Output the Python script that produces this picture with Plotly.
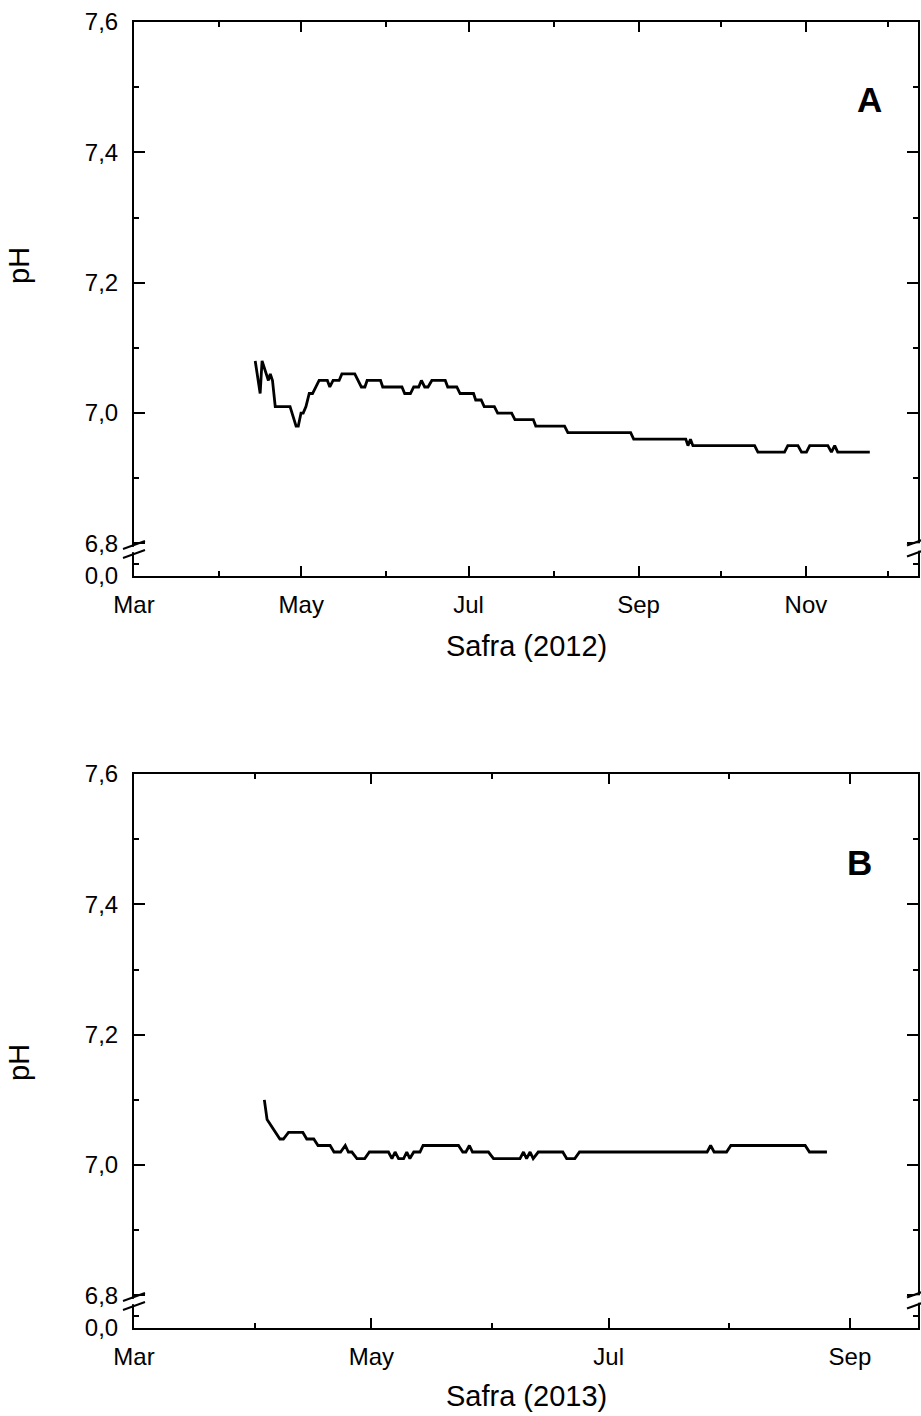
import pandas as pd
import plotly.graph_objects as go

# ---------------- data ----------------
season_start_2012 = "2012-03-01"
days_2012 = [44.2, 46.0, 46.7, 48.4, 49.0, 49.7, 50.5, 51.5,
             56.9, 59.1, 59.9, 60.9, 61.7, 62.7, 63.9, 65.1,
             67.5, 70.5, 71.4, 72.6, 74.8, 75.8, 80.5, 82.9,
             84.2, 85.0, 89.9, 90.7, 97.7, 98.7, 100.8, 102.0,
             103.8, 104.8, 106.0, 107.2, 108.6, 113.5, 114.4, 117.7,
             118.9, 123.8, 124.6, 126.6, 127.7, 131.4, 132.6, 137.7,
             138.9, 145.6, 146.5, 157.0, 158.2, 181.1, 182.2, 201.2,
             202.0, 202.9, 203.8, 226.3, 227.5, 237.2, 238.4, 242.1,
             243.4, 245.2, 246.4, 253.0, 254.3, 255.5, 256.6, 268.3]
ph_2012 = [7.08, 7.03, 7.08, 7.06, 7.05, 7.06, 7.05, 7.01,
           7.01, 6.98, 6.98, 7.00, 7.00, 7.01, 7.03, 7.03,
           7.05, 7.05, 7.04, 7.05, 7.05, 7.06, 7.06, 7.04,
           7.04, 7.05, 7.05, 7.04, 7.04, 7.03, 7.03, 7.04,
           7.04, 7.05, 7.04, 7.04, 7.05, 7.05, 7.04, 7.04,
           7.03, 7.03, 7.02, 7.02, 7.01, 7.01, 7.00, 7.00,
           6.99, 6.99, 6.98, 6.98, 6.97, 6.97, 6.96, 6.96,
           6.95, 6.96, 6.95, 6.95, 6.94, 6.94, 6.95, 6.95,
           6.94, 6.94, 6.95, 6.95, 6.94, 6.95, 6.94, 6.94]

season_start_2013 = "2013-03-01"
days_2013 = [33.5, 34.2, 37.5, 38.4, 39.7, 43.4, 44.4, 46.2,
             47.3, 50.4, 51.4, 53.1, 54.3, 55.1, 56.0, 57.3,
             59.3, 60.5, 65.4, 66.3, 67.1, 68.0, 69.3, 70.1,
             70.9, 71.9, 73.5, 74.3, 83.4, 84.5, 85.3, 86.2,
             87.0, 91.1, 92.4, 99.2, 100.1, 100.9, 101.8, 102.6,
             103.9, 110.2, 111.2, 113.3, 114.5, 147.3, 148.2, 149.1,
             152.3, 153.4, 172.5, 173.6, 178.1]
ph_2013 = [7.10, 7.07, 7.04, 7.04, 7.05, 7.05, 7.04, 7.04,
           7.03, 7.03, 7.02, 7.02, 7.03, 7.02, 7.02, 7.01,
           7.01, 7.02, 7.02, 7.01, 7.02, 7.01, 7.01, 7.02,
           7.01, 7.02, 7.02, 7.03, 7.03, 7.02, 7.02, 7.03,
           7.02, 7.02, 7.01, 7.01, 7.02, 7.01, 7.02, 7.01,
           7.02, 7.02, 7.01, 7.01, 7.02, 7.02, 7.03, 7.02,
           7.02, 7.03, 7.03, 7.02, 7.02]

x_range_2012 = ["2012-03-01", "2012-12-11 21:00"]
x_range_2013 = ["2013-03-01", "2013-09-18 12:00"]

y_tickvals = [6.75, 6.8, 7.0, 7.2, 7.4, 7.6]
y_ticktext = ["0,0", "6,8", "7,0", "7,2", "7,4", "7,6"]
y_minor = [6.768, 6.9, 7.1, 7.3, 7.5]
y_range = [6.75, 7.6]

panel_labels = ["A", "B"]
x_titles = ["Safra (2012)", "Safra (2013)"]
y_title = "pH"

# ---------------- figure ----------------
FONT = "Liberation Sans, Arial, Helvetica, sans-serif"
W, H = 921, 1416
M_L, M_R, M_T, M_B = 134, 3, 22, 88
PW = W - M_L - M_R          # plot width in px
PH_ALL = H - M_T - M_B      # plot height in px
PANEL_H = 554

def to_dates(start, days):
    return pd.Timestamp(start) + pd.to_timedelta(days, unit="D")

fig = go.Figure()
fig.add_trace(go.Scatter(x=to_dates(season_start_2012, days_2012), y=ph_2012,
                         mode="lines", line=dict(color="black", width=2.8),
                         xaxis="x", yaxis="y", showlegend=False))
fig.add_trace(go.Scatter(x=to_dates(season_start_2013, days_2013), y=ph_2013,
                         mode="lines", line=dict(color="black", width=2.8),
                         xaxis="x2", yaxis="y2", showlegend=False))

common = dict(showline=True, linecolor="black", linewidth=2, mirror="ticks",
              ticks="inside", tickcolor="black", tickwidth=2, showgrid=False,
              zeroline=False, tickfont=dict(family=FONT, size=24, color="black"))

top_dom = [(PH_ALL - (576 - M_T)) / PH_ALL, 1.0]
bot_dom = [0.0, PANEL_H / PH_ALL]

def xaxis_cfg(rng, tick0, anchor):
    return dict(common, type="date", range=rng, anchor=anchor,
                tickformat="%b", dtick="M2", tick0=tick0, ticklen=10,
                ticklabelstandoff=6,
                minor=dict(dtick="M1", tick0=tick0, ticks="inside", ticklen=5,
                           tickwidth=2, tickcolor="black", showgrid=False))

def yaxis_cfg(dom, anchor):
    return dict(common, domain=dom, range=y_range, anchor=anchor,
                tickmode="array", tickvals=y_tickvals, ticktext=y_ticktext,
                ticklen=11, ticklabelstandoff=9,
                minor=dict(tickmode="array", tickvals=y_minor, ticks="inside",
                           ticklen=5, tickwidth=2, tickcolor="black",
                           showgrid=False))

fig.update_layout(
    width=W, height=H, margin=dict(l=M_L, r=M_R, t=M_T, b=M_B, autoexpand=False),
    paper_bgcolor="white", plot_bgcolor="white",
    font=dict(family=FONT, color="black"),
    xaxis=xaxis_cfg(x_range_2012, "2012-03-01", "y"),
    yaxis=yaxis_cfg(top_dom, "x"),
    xaxis2=xaxis_cfg(x_range_2013, "2013-03-01", "y2"),
    yaxis2=yaxis_cfg(bot_dom, "x2"),
)

# axis-break marks (decoration) on both sides of each panel
shapes = []
for xs, ys in (("x", "y"), ("x2", "y2")):
    xr, yr = xs + " domain", ys + " domain"
    for side, centers in ((0.0, (22.0, 31.0)), (1.0, (23.5, 34.5))):
        lo, hi = min(centers), max(centers)
        shapes.append(dict(type="rect", xref=xr, yref=yr, layer="above",
                           x0=side - 3 / PW, x1=side + 3 / PW,
                           y0=(lo + 1.8) / PANEL_H, y1=(hi - 1.8) / PANEL_H,
                           fillcolor="white", line=dict(width=0)))
        for c in centers:
            shapes.append(dict(type="line", xref=xr, yref=yr, layer="above",
                               x0=side - 11 / PW, x1=side + 11 / PW,
                               y0=(c - 4) / PANEL_H, y1=(c + 4) / PANEL_H,
                               line=dict(color="black", width=2)))
fig.update_layout(shapes=shapes)

def py(pix):  # page pixel y -> paper y
    return (H - M_B - pix) / PH_ALL

def px(pix):
    return (pix - M_L) / PW

annotations = [
    dict(text="<b>%s</b>" % panel_labels[0], x=px(869), y=py(100), xref="paper", yref="paper",
         showarrow=False, font=dict(family=FONT, size=35, color="black"),
         xanchor="center", yanchor="middle"),
    dict(text="<b>%s</b>" % panel_labels[1], x=px(859), y=py(862), xref="paper", yref="paper",
         showarrow=False, font=dict(family=FONT, size=35, color="black"),
         xanchor="center", yanchor="middle"),
    dict(text=x_titles[0], x=0.5, y=py(646), xref="paper", yref="paper",
         showarrow=False, font=dict(family=FONT, size=29, color="black"),
         xanchor="center", yanchor="middle"),
    dict(text=x_titles[1], x=0.5, y=py(1396), xref="paper", yref="paper",
         showarrow=False, font=dict(family=FONT, size=29, color="black"),
         xanchor="center", yanchor="middle"),
    dict(text=y_title, x=px(19), y=py(265), xref="paper", yref="paper", textangle=-90,
         showarrow=False, font=dict(family=FONT, size=29, color="black"),
         xanchor="center", yanchor="middle"),
    dict(text=y_title, x=px(19), y=py(1062), xref="paper", yref="paper", textangle=-90,
         showarrow=False, font=dict(family=FONT, size=29, color="black"),
         xanchor="center", yanchor="middle"),
]
fig.update_layout(annotations=annotations)

fig.write_html("out.html")
